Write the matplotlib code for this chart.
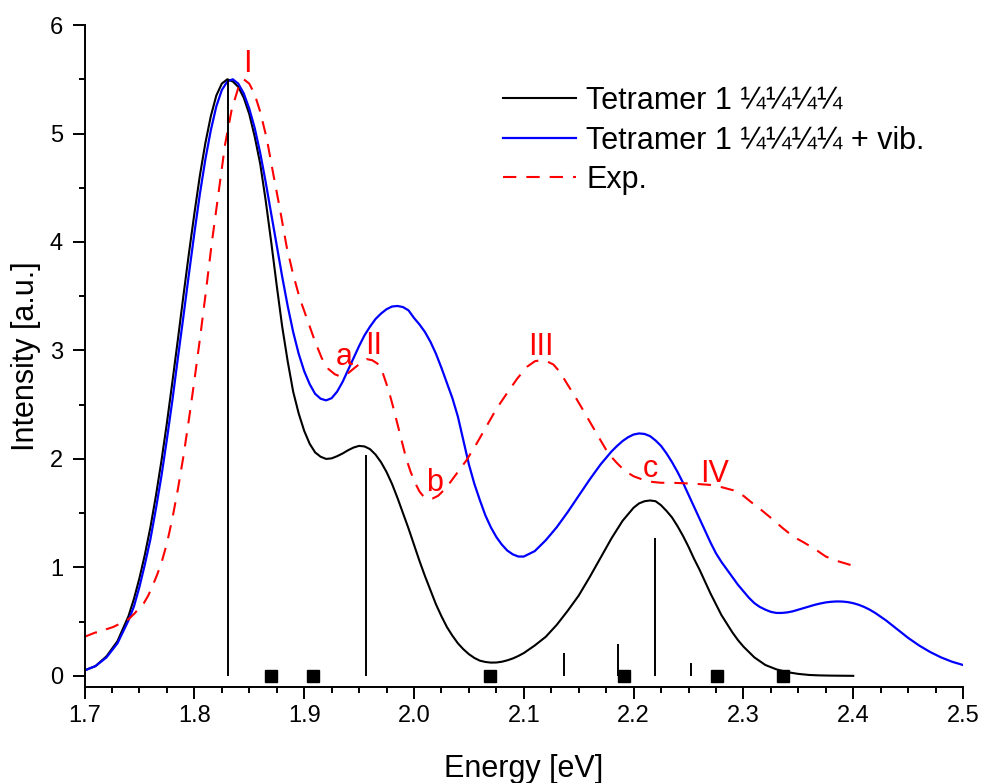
import numpy as np
import matplotlib
matplotlib.use('Agg')
import matplotlib.pyplot as plt
from matplotlib.ticker import MultipleLocator

plt.rcParams['font.family'] = ['Liberation Sans', 'DejaVu Sans']

# Tetramer 1 (electronic only)
black_x = [1.70, 1.71, 1.72, 1.73, 1.74, 1.745, 1.75, 1.755, 1.76, 1.765,
           1.77, 1.775, 1.78, 1.785, 1.79, 1.795, 1.80, 1.805, 1.81, 1.815,
           1.82, 1.825, 1.83, 1.835, 1.84, 1.845, 1.85, 1.855, 1.86, 1.865,
           1.87, 1.875, 1.88, 1.885, 1.89, 1.895, 1.90, 1.905, 1.91, 1.915,
           1.92, 1.925, 1.93, 1.935, 1.94, 1.945, 1.95, 1.955, 1.96, 1.965,
           1.97, 1.975, 1.98, 1.985, 1.99, 1.995, 2.00, 2.005, 2.01, 2.015,
           2.02, 2.025, 2.03, 2.035, 2.04, 2.045, 2.05, 2.055, 2.06, 2.065,
           2.07, 2.075, 2.08, 2.085, 2.09, 2.095, 2.10, 2.11, 2.12, 2.13,
           2.14, 2.15, 2.16, 2.165, 2.17, 2.175, 2.18, 2.185, 2.19, 2.195,
           2.20, 2.205, 2.21, 2.215, 2.22, 2.225, 2.23, 2.235, 2.24, 2.245,
           2.25, 2.255, 2.26, 2.265, 2.27, 2.275, 2.28, 2.285, 2.29, 2.295,
           2.30, 2.31, 2.32, 2.33, 2.34, 2.35, 2.36, 2.37, 2.38, 2.39, 2.40]
black_y = [0.05, 0.09, 0.18, 0.32, 0.55, 0.71, 0.90, 1.12, 1.37, 1.66,
           1.98, 2.33, 2.71, 3.10, 3.50, 3.89, 4.26, 4.61, 4.91, 5.16,
           5.35, 5.46, 5.50, 5.48, 5.43, 5.33, 5.18, 4.97, 4.72, 4.38,
           4.00, 3.60, 3.22, 2.90, 2.62, 2.42, 2.26, 2.14, 2.06, 2.02,
           2.00, 2.005, 2.025, 2.05, 2.08, 2.105, 2.12, 2.115, 2.09, 2.04,
           1.97, 1.88, 1.77, 1.64, 1.50, 1.36, 1.21, 1.06, 0.92, 0.79,
           0.66, 0.55, 0.45, 0.37, 0.30, 0.245, 0.20, 0.165, 0.14, 0.128,
           0.122, 0.123, 0.13, 0.143, 0.16, 0.183, 0.21, 0.28, 0.36, 0.47,
           0.60, 0.74, 0.91, 1.00, 1.09, 1.18, 1.27, 1.35, 1.43, 1.49,
           1.55, 1.59, 1.61, 1.617, 1.61, 1.573, 1.52, 1.46, 1.38, 1.29,
           1.19, 1.08, 0.98, 0.87, 0.76, 0.66, 0.56, 0.48, 0.40, 0.33,
           0.27, 0.17, 0.10, 0.06, 0.034, 0.018, 0.008, 0.004, 0.002, 0.001, 0.0]

# Tetramer 1 + vibronic
blue_x = [1.70, 1.71, 1.72, 1.73, 1.74, 1.745, 1.75, 1.755, 1.76, 1.765,
          1.77, 1.775, 1.78, 1.785, 1.79, 1.795, 1.80, 1.805, 1.81, 1.815,
          1.82, 1.825, 1.83, 1.835, 1.84, 1.845, 1.85, 1.855, 1.86, 1.865,
          1.87, 1.875, 1.88, 1.885, 1.89, 1.895, 1.90, 1.905, 1.91, 1.915,
          1.92, 1.925, 1.93, 1.935, 1.94, 1.945, 1.95, 1.955, 1.96, 1.965,
          1.97, 1.975, 1.98, 1.985, 1.99, 1.995, 2.00, 2.005, 2.01, 2.015,
          2.02, 2.025, 2.03, 2.035, 2.04, 2.045, 2.05, 2.055, 2.06, 2.065,
          2.07, 2.075, 2.08, 2.085, 2.09, 2.095, 2.10, 2.11, 2.12, 2.13,
          2.14, 2.15, 2.16, 2.165, 2.17, 2.175, 2.18, 2.185, 2.19, 2.195,
          2.20, 2.205, 2.21, 2.215, 2.22, 2.225, 2.23, 2.235, 2.24, 2.245,
          2.25, 2.255, 2.26, 2.265, 2.27, 2.275, 2.28, 2.285, 2.29, 2.295,
          2.30, 2.305, 2.31, 2.315, 2.32, 2.325, 2.33, 2.335, 2.34, 2.345,
          2.35, 2.355, 2.36, 2.365, 2.37, 2.375, 2.38, 2.385, 2.39, 2.395,
          2.40, 2.405, 2.41, 2.415, 2.42, 2.425, 2.43, 2.435, 2.44, 2.445,
          2.45, 2.455, 2.46, 2.465, 2.47, 2.475, 2.48, 2.485, 2.49, 2.495, 2.50]
blue_y = [0.05, 0.09, 0.17, 0.30, 0.51, 0.64, 0.82, 1.03, 1.26, 1.54,
          1.84, 2.18, 2.54, 2.93, 3.31, 3.70, 4.08, 4.44, 4.76, 5.03,
          5.25, 5.40, 5.48, 5.50, 5.46, 5.37, 5.23, 5.05, 4.82, 4.55,
          4.26, 3.97, 3.68, 3.41, 3.17, 2.97, 2.81, 2.69, 2.60, 2.555,
          2.54, 2.56, 2.62, 2.71, 2.82, 2.93, 3.04, 3.14, 3.22, 3.29,
          3.34, 3.38, 3.405, 3.41, 3.40, 3.37, 3.30, 3.24, 3.17, 3.08,
          2.97, 2.84, 2.70, 2.56, 2.39, 2.17, 1.95, 1.77, 1.62, 1.48,
          1.37, 1.28, 1.21, 1.155, 1.12, 1.10, 1.10, 1.15, 1.25, 1.37,
          1.51, 1.66, 1.81, 1.88, 1.95, 2.01, 2.07, 2.12, 2.165, 2.20,
          2.225, 2.235, 2.23, 2.21, 2.17, 2.12, 2.05, 1.97, 1.88, 1.78,
          1.67, 1.56, 1.45, 1.34, 1.23, 1.13, 1.05, 0.98, 0.91, 0.84,
          0.78, 0.72, 0.67, 0.635, 0.61, 0.59, 0.58, 0.58, 0.585, 0.595,
          0.61, 0.625, 0.64, 0.655, 0.667, 0.677, 0.683, 0.686, 0.685, 0.68,
          0.67, 0.655, 0.635, 0.61, 0.58, 0.545, 0.51, 0.47, 0.43, 0.39,
          0.35, 0.315, 0.28, 0.25, 0.22, 0.195, 0.17, 0.15, 0.13, 0.115, 0.10]

# experiment
exp_x = [1.700, 1.705, 1.710, 1.716, 1.720, 1.726, 1.732, 1.737, 1.741, 1.746,
         1.750, 1.754, 1.758, 1.762, 1.766, 1.770, 1.775, 1.780, 1.785, 1.790,
         1.795, 1.800, 1.805, 1.810, 1.816, 1.822, 1.828, 1.834, 1.840, 1.845,
         1.850, 1.855, 1.860, 1.866, 1.872, 1.878, 1.884, 1.890, 1.896, 1.903,
         1.910, 1.916, 1.922, 1.928, 1.933, 1.940, 1.946, 1.951, 1.957, 1.962,
         1.968, 1.972, 1.977, 1.981, 1.985, 1.989, 1.993, 1.997, 2.001, 2.005,
         2.009, 2.013, 2.017, 2.022, 2.027, 2.032, 2.040, 2.048, 2.057, 2.066,
         2.075, 2.085, 2.094, 2.103, 2.110, 2.115, 2.121, 2.127, 2.133, 2.139,
         2.147, 2.154, 2.162, 2.170, 2.177, 2.185, 2.192, 2.200, 2.208, 2.215,
         2.225, 2.235, 2.245, 2.257, 2.270, 2.280, 2.291, 2.300, 2.306, 2.315,
         2.327, 2.336, 2.346, 2.355, 2.365, 2.375, 2.385, 2.395, 2.405]
exp_y = [0.36, 0.38, 0.40, 0.40, 0.43, 0.45, 0.48, 0.50, 0.53, 0.58,
         0.63, 0.67, 0.74, 0.83, 0.93, 1.04, 1.22, 1.45, 1.72, 2.02,
         2.36, 2.72, 3.10, 3.50, 4.00, 4.45, 4.90, 5.22, 5.42, 5.50,
         5.46, 5.36, 5.20, 4.95, 4.62, 4.30, 3.96, 3.70, 3.48, 3.28,
         3.08, 2.93, 2.83, 2.78, 2.76, 2.79, 2.84, 2.88, 2.92, 2.91,
         2.87, 2.78, 2.63, 2.48, 2.32, 2.16, 2.00, 1.88, 1.78, 1.70,
         1.65, 1.63, 1.635, 1.66, 1.71, 1.77, 1.88, 1.99, 2.14, 2.30,
         2.46, 2.61, 2.74, 2.85, 2.90, 2.91, 2.90, 2.87, 2.80, 2.70,
         2.57, 2.45, 2.31, 2.17, 2.05, 1.96, 1.89, 1.84, 1.81, 1.79,
         1.78, 1.78, 1.776, 1.77, 1.76, 1.74, 1.71, 1.66, 1.61, 1.54,
         1.44, 1.36, 1.28, 1.23, 1.17, 1.10, 1.06, 1.03, 1.00]

# transitions (sticks) and vibronic positions (squares)
stick_x = [1.8306, 1.9566, 2.137, 2.186, 2.2193, 2.2524]
stick_h = [5.50, 2.04, 0.215, 0.295, 1.27, 0.123]
square_x = [1.870, 1.908, 2.069, 2.191, 2.276, 2.336]

# peak labels
lab_text = ['I', 'a', 'II', 'III', 'b', 'c', 'IV']
lab_x = [1.8486, 1.9363, 1.963, 2.1156, 2.0183, 2.2157, 2.2733]
lab_y = [5.57, 2.866, 2.965, 2.958, 1.708, 1.837, 1.791]

fig = plt.figure(figsize=(9.84, 7.83), dpi=100)
ax = fig.add_axes([0.0859, 0.123, 0.8928, 0.845])

ax.plot(black_x, black_y, color='black', lw=1.5, label='Tetramer 1 \u00bc\u00bc\u00bc\u00bc')
ax.plot(blue_x, blue_y, color='#0000ff', lw=1.6, label='Tetramer 1 \u00bc\u00bc\u00bc\u00bc + vib.')
ax.plot(exp_x, exp_y, color='#ff0000', lw=1.5, dashes=(6.4, 4.8), label='Exp.')
ax.vlines(stick_x, 0, stick_h, color='black', lw=1.4)
ax.plot(square_x, [0] * len(square_x), 's', color='black', ms=8.6, ls='none')

for t, x, y in zip(lab_text, lab_x, lab_y):
    ax.text(x, y, t, color='#ff0000', fontsize=22, ha='center', va='baseline')

ax.set_xlim(1.7, 2.5)
ax.set_ylim(-0.1, 6)
ax.xaxis.set_major_locator(MultipleLocator(0.1))
ax.xaxis.set_minor_locator(MultipleLocator(0.025))
ax.yaxis.set_major_locator(MultipleLocator(1))
ax.yaxis.set_minor_locator(MultipleLocator(0.5))
ax.set_xticks([1.7, 1.8, 1.9, 2.0, 2.1, 2.2, 2.3, 2.4, 2.5])
ax.set_xticklabels(['1.7', '1.8', '1.9', '2.0', '2.1', '2.2', '2.3', '2.4', '2.5'])
ax.set_yticks([0, 1, 2, 3, 4, 5, 6])

for s in ['top', 'right']:
    ax.spines[s].set_visible(False)
for s in ['left', 'bottom']:
    ax.spines[s].set_linewidth(1.4)
ax.tick_params(which='major', direction='out', length=8.5, width=1.4, labelsize=17)
ax.tick_params(axis='x', which='major', pad=5)
ax.tick_params(axis='y', which='major', pad=7)
ax.tick_params(which='minor', direction='out', length=4.3, width=1.4)

ax.set_xlabel('Energy [eV]', fontsize=22)
ax.set_ylabel('Intensity [a.u.]', fontsize=22)
ax.xaxis.set_label_coords(0.5, -0.1015)
ax.yaxis.set_label_coords(-0.049, 0.5)

fig.legend(loc='upper left', bbox_to_anchor=(503 / 984, 1 - 86 / 783), frameon=False,
           fontsize=22, borderpad=0, borderaxespad=0, labelspacing=0.31,
           handlelength=2.39, handletextpad=0.33)

fig.savefig('out.png', dpi=100)
